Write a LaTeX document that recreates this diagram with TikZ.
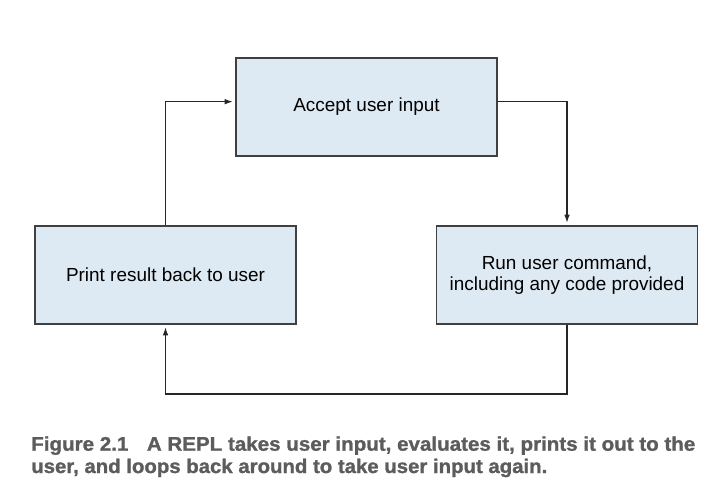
\documentclass[tikz,border=0pt]{standalone}
\usepackage{fontspec}
\usepackage{graphicx}
\setmainfont{Liberation Sans}
\newfontfamily\capfont[FakeBold=1.2]{Liberation Sans Bold}
\usetikzlibrary{arrows.meta,positioning}
\definecolor{boxfill}{RGB}{222,234,243}
\definecolor{boxline}{RGB}{64,64,64}
\definecolor{capgray}{RGB}{92,92,92}
\tikzset{
  procbox/.style={draw=boxline, line width=1pt, fill=boxfill, minimum width=195.75pt, minimum height=73.5pt, inner sep=0pt, align=center, font=\fontsize{14.2}{16.3}\selectfont},
  flow/.style={draw=black!85, line width=0.8pt, -{Latex[length=6pt,width=4.2pt]}, shorten >=2pt},
  captext/.style={anchor=base west, inner sep=0pt, text=capgray, font=\capfont\fontsize{14.8}{17}\selectfont}
}
\begin{document}
\begin{tikzpicture}[x=0.75pt,y=-0.75pt]
\useasboundingbox (0,0) rectangle (724,500);
\node[procbox] (accept) at (366.5,107) {Accept user input};
\node[procbox] (print) at (165.5,275) {Print result back to user};
\node[procbox] (run) at (567,275) {Run user command,\\including any code provided};
\coordinate (loop) at (0,394);
\draw[flow] ([yshift=4pt]accept.east) -| (run.north);
\draw[flow] (run.south) -- (run.south |- loop) -| (print.south);
\draw[flow] (print.north) |- ([yshift=4pt]accept.west);
\node[captext] (cap1) at (31,450.7) {\resizebox{498pt}{\height}{Figure 2.1\hspace{0.9em}A REPL takes user input, evaluates it, prints it out to the}};
\node[captext] (cap2) at (31,473) {\resizebox{387pt}{\height}{user, and loops back around to take user input again.}};
\end{tikzpicture}
\end{document}
